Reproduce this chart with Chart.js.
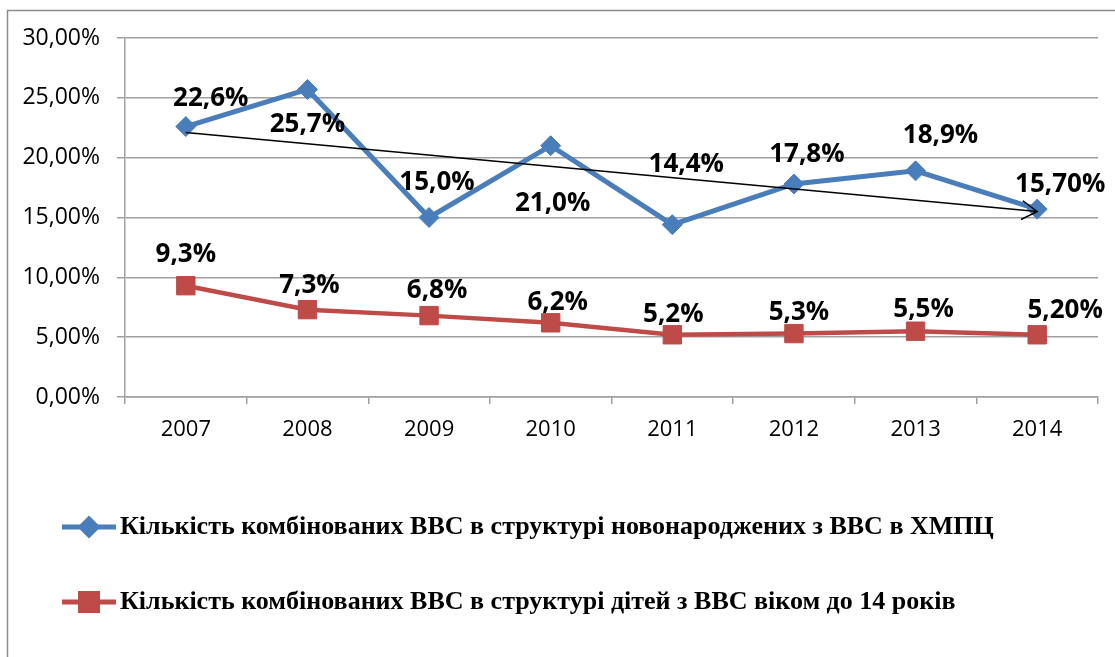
<!DOCTYPE html>
<html>
<head>
<meta charset="utf-8">
<script src="https://cdn.jsdelivr.net/npm/chart.js@4"></script>
<style>
  html, body { margin: 0; padding: 0; background: #fff; }
  #wrap { width: 1115px; height: 657px; }
</style>
</head>
<body>
<div id="wrap"><canvas id="chart" width="1115" height="657"></canvas></div>
<script>
const years = ['2007', '2008', '2009', '2010', '2011', '2012', '2013', '2014'];
const newbornShare = [22.6, 25.7, 15.0, 21.0, 14.4, 17.8, 18.9, 15.7];
const childShare = [9.3, 7.3, 6.8, 6.2, 5.2, 5.3, 5.5, 5.2];
const newbornLabels = ['22,6%', '25,7%', '15,0%', '21,0%', '14,4%', '17,8%', '18,9%', '15,70%'];
const childLabels = ['9,3%', '7,3%', '6,8%', '6,2%', '5,2%', '5,3%', '5,5%', '5,20%'];
// hand-drawn trend arrow: start and end only
const trendValues = [22.1, null, null, null, null, null, null, 15.5];
const seriesNames = [
    'Кількість комбінованих ВВС в структурі новонароджених з ВВС в ХМПЦ',
    'Кількість комбінованих ВВС в структурі дітей з ВВС віком до 14 років'
];

const blue = '#4A7EBB';
const red = '#BE4B48';
const gridColor = '#a0a0a0';

// where each value label sits relative to its point (px)
const labelOffsets = [
    [[25, -30], [0, 33], [8, -37], [2, 56], [14, -62], [13, -31], [25, -37], [23, -26]],
    [[0, -33], [2, -26], [8, -27], [7, -22], [1, -22], [5, -23], [8, -23], [28, -26]]
];
const labelTexts = [newbornLabels, childLabels];

const framePlugin = {
    id: 'frame',
    beforeDraw(chart) {
        const ctx = chart.ctx;
        ctx.save();
        ctx.strokeStyle = '#8c8c8c';
        ctx.lineWidth = 1.5;
        ctx.beginPath();
        ctx.moveTo(7.5, 657);
        ctx.lineTo(7.5, 10.5);
        ctx.lineTo(1115, 10.5);
        ctx.stroke();
        ctx.restore();
    }
};

const valueLabelPlugin = {
    id: 'valueLabels',
    afterDatasetsDraw(chart) {
        const ctx = chart.ctx;
        const size = 26;
        ctx.save();
        ctx.font = 'bold ' + size + 'px "Open Sans"';
        ctx.fillStyle = '#000';
        ctx.textAlign = 'center';
        ctx.textBaseline = 'alphabetic';
        [0, 1].forEach(i => {
            const meta = chart.getDatasetMeta(i);
            meta.data.forEach((pt, j) => {
                const off = labelOffsets[i][j];
                ctx.fillText(labelTexts[i][j], pt.x + off[0], pt.y + off[1] + size * 0.357);
            });
        });

        // arrow head on the trend line
        const tm = chart.getDatasetMeta(2).data;
        const a = tm[0], b = tm[tm.length - 1];
        const ang = Math.atan2(b.y - a.y, b.x - a.x);
        const len = 18, spread = 0.55;
        ctx.strokeStyle = '#000';
        ctx.lineWidth = 1.5;
        ctx.beginPath();
        ctx.moveTo(b.x - len * Math.cos(ang - spread), b.y - len * Math.sin(ang - spread));
        ctx.lineTo(b.x, b.y);
        ctx.lineTo(b.x - len * Math.cos(ang + spread), b.y - len * Math.sin(ang + spread));
        ctx.stroke();
        ctx.restore();
    }
};

const legendPlugin = {
    id: 'customLegend',
    afterDraw(chart) {
        const ctx = chart.ctx;
        const rows = [527, 602];
        const markerRadius = [8, 12];
        ctx.save();
        [0, 1].forEach(i => {
            const ds = chart.data.datasets[i];
            const y = rows[i];
            ctx.strokeStyle = ds.borderColor;
            ctx.lineWidth = 5;
            ctx.beginPath();
            ctx.moveTo(62, y);
            ctx.lineTo(116, y);
            ctx.stroke();
            Chart.helpers.drawPoint(ctx, {
                pointStyle: ds.pointStyle,
                radius: markerRadius[i],
                borderWidth: 1
            }, 89, y);
            ctx.fillStyle = ds.borderColor;
            ctx.fill();
            ctx.font = 'bold 26px "Liberation Serif"';
            ctx.fillStyle = '#000';
            ctx.textAlign = 'left';
            ctx.textBaseline = 'middle';
            ctx.fillText(seriesNames[i], 120, y);
        });
        ctx.restore();
    }
};

new Chart(document.getElementById('chart'), {
    type: 'line',
    data: {
        labels: years,
        datasets: [
            {
                label: seriesNames[0],
                data: newbornShare,
                borderColor: blue,
                backgroundColor: blue,
                borderWidth: 5,
                pointStyle: 'rectRot',
                pointRadius: 10,
                pointBorderWidth: 1,
                tension: 0
            },
            {
                label: seriesNames[1],
                data: childShare,
                borderColor: red,
                backgroundColor: red,
                borderWidth: 4.5,
                pointStyle: 'rect',
                pointRadius: 13,
                pointBorderWidth: 1,
                tension: 0
            },
            {
                label: 'trend',
                data: trendValues,
                borderColor: '#000',
                borderWidth: 1.5,
                pointRadius: 0,
                spanGaps: true,
                order: -1
            }
        ]
    },
    options: {
        responsive: false,
        animation: false,
        devicePixelRatio: 1,
        layout: { padding: { top: 38, right: 17, bottom: 200, left: 0 } },
        plugins: {
            legend: { display: false },
            tooltip: { enabled: false }
        },
        scales: {
            x: {
                offset: true,
                afterFit(scale) { scale.height = 60; },
                grid: {
                    offset: true,
                    drawOnChartArea: false,
                    drawTicks: true,
                    tickLength: 7,
                    color: gridColor,
                    lineWidth: 1.5
                },
                border: { display: true, color: gridColor, width: 1.5 },
                ticks: {
                    color: '#000',
                    padding: 13,
                    font: { family: '"Open Sans"', size: 22 }
                }
            },
            y: {
                min: 0,
                max: 30,
                afterFit(scale) { scale.width = 125; },
                grid: {
                    color: gridColor,
                    lineWidth: 1.5,
                    tickLength: 8
                },
                border: { display: true, color: gridColor, width: 1.5 },
                ticks: {
                    stepSize: 5,
                    color: '#000',
                    padding: 17,
                    font: { family: '"Open Sans"', size: 23 },
                    callback: v => v.toFixed(2).replace('.', ',') + '%'
                }
            }
        }
    },
    plugins: [framePlugin, valueLabelPlugin, legendPlugin]
});
</script>
</body>
</html>
